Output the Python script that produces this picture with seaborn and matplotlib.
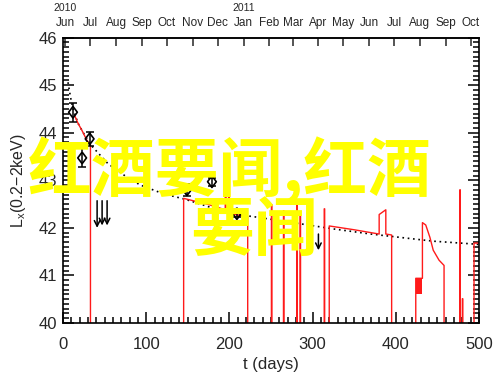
import numpy as np
import pandas as pd
import matplotlib
matplotlib.use("Agg")
import matplotlib.pyplot as plt
import seaborn as sns
from matplotlib.ticker import MultipleLocator
from matplotlib.transforms import blended_transform_factory

# ---- data ----
# dotted model curve
model_t = [6, 9, 12, 18, 25, 33, 54, 78, 93, 120, 147, 201, 231, 280, 324, 370, 445, 494, 500]
model_L = [45.06, 44.75, 44.5, 44.2, 43.98, 43.75, 43.35, 43.05, 42.9, 42.72, 42.6, 42.3, 42.23,
           42.1, 41.98, 41.87, 41.72, 41.66, 41.65]

# red light curve (39 = dropped below the axis)
red_t = [14, 18, 23, 29, 33, 33,
         145, 145, 175, 195, 195, 196, 196, 199, 199, 200, 200, 201, 222, 222,
         250.5, 250.5, 251, 251,
         265, 265, 265.5, 265.5,
         281, 281, 281.5, 281.5,
         285, 285, 285.5, 285.5,
         314, 314, 314.5, 314.5,
         320, 320, 350, 380, 380, 388, 388, 395, 395,
         424, 424, 432, 432, 436, 441, 445, 452, 458, 458,
         477, 477, 477.5, 477.5,
         480, 480, 480.5, 480.5,
         494, 494, 500]
red_L = [44.36, 44.2, 44.04, 43.83, 43.75, 39,
         39, 42.62, 42.49, 42.38, 43.5, 43.5, 42.37, 42.36, 43.5, 43.5, 42.32, 42.3, 42.23, 39,
         39, 42.49, 42.49, 39,
         39, 42.36, 42.36, 39,
         39, 42.49, 42.49, 39,
         39, 42.34, 42.34, 39,
         39, 42.4, 42.4, 39,
         39, 42.04, 41.96, 41.87, 42.28, 42.38, 41.87, 41.85, 39,
         39, 40.94, 40.94, 42.11, 42.06, 41.8, 41.53, 41.32, 41.21, 39,
         39, 42.8, 42.8, 39,
         39, 40.51, 40.51, 39,
         39, 41.68, 41.68]

# filled red block
block_t = [424, 432]
block_lo = [40.6, 40.6]
block_hi = [40.94, 40.94]

# detections with error bars
det_t = [12, 23, 32, 149, 179, 209]
det_L = [44.43, 43.47, 43.87, 42.8, 42.97, 42.3]
det_err = [0.2, 0.2, 0.14, 0.12, 0.08, 0.08]

# upper limits
lim_t = [41, 47, 53, 307]
lim_top = [42.57, 42.57, 42.57, 41.87]
lim_tip = [42.0, 42.05, 42.05, 41.53]

# top axis months
month_lab = ["Jun", "Jul", "Aug", "Sep", "Oct", "Nov", "Dec", "Jan", "Feb", "Mar",
             "Apr", "May", "Jun", "Jul", "Aug", "Sep", "Oct"]
t0 = pd.Timestamp("2010-05-29")
month_t = (pd.date_range("2010-06-01", "2011-10-01", freq="MS") - t0).days.values
year_lab = ["2010", "2011"]
year_t = [month_t[0], month_t[7]]

# ---- plot ----
sns.set_style("ticks")
plt.rcParams["font.family"] = ["Liberation Sans", "DejaVu Sans"]
plt.rcParams["axes.linewidth"] = 1.2

fig = plt.figure(figsize=(5, 3.85), dpi=100)
ax = fig.add_axes([0.126, 0.161, 0.832, 0.7415])

sns.lineplot(x=model_t, y=model_L, ax=ax, color="k", lw=1.2, linestyle=(0, (1, 2.2)),
             sort=False, estimator=None)
sns.lineplot(x=red_t, y=red_L, ax=ax, color="#ff1a1a", lw=1.0, sort=False, estimator=None)
ax.fill_between(block_t, block_lo, block_hi, color="#ff1a1a", lw=0)

ax.errorbar(det_t, det_L, yerr=det_err, fmt="none", ecolor="k", elinewidth=1.1, capsize=3, capthick=1.1)
# tall open diamond like the IDL symbol
diamond = [(0, 1), (0.75, 0), (0, -1), (-0.75, 0), (0, 1)]
sns.scatterplot(x=det_t, y=det_L, ax=ax, marker=diamond, s=70, zorder=5)
pts = ax.collections[-1]
pts.set_facecolor("none")
pts.set_edgecolor("k")
pts.set_linewidth(1.2)

for t, a, b in zip(lim_t, lim_top, lim_tip):
    ax.annotate("", xy=(t, b), xytext=(t, a),
                arrowprops=dict(arrowstyle="->", color="k", lw=1.1, shrinkA=0, shrinkB=0))

ax.set_xlim(0, 500)
ax.set_ylim(40, 46)
ax.xaxis.set_major_locator(MultipleLocator(100))
ax.xaxis.set_minor_locator(MultipleLocator(10))
ax.yaxis.set_major_locator(MultipleLocator(1))
ax.yaxis.set_minor_locator(MultipleLocator(0.1))
ax.tick_params(which="both", direction="in", top=False, right=True, color="k", width=1.1)
ax.tick_params(which="major", length=8)
ax.tick_params(which="minor", length=4)
ax.tick_params(axis="x", labelsize=12, pad=10)
ax.tick_params(axis="y", labelsize=12, pad=4)
for s in ax.spines.values():
    s.set_visible(True)
    s.set_color("k")

ax.set_xlabel("t (days)", fontsize=12, labelpad=4)
ax.set_ylabel("L$_\\mathregular{x}$(0.2\u22122keV)", fontsize=11.5, labelpad=8)

top = ax.secondary_xaxis("top")
top.set_xticks(month_t, labels=month_lab)
top.tick_params(direction="in", length=6, width=1.1, labelsize=8.5, pad=6)
top.xaxis.set_minor_locator(matplotlib.ticker.NullLocator())

tr = blended_transform_factory(ax.transData, ax.transAxes)
for t, lab in zip(year_t, year_lab):
    ax.text(t, 1.105, lab, transform=tr, ha="center", va="center", fontsize=7.5)

# watermark
fig.text(0.056, 0.558, "红酒要闻,红酒", fontsize=46, color="#ffff00", weight="bold",
         family=["Noto Sans CJK SC", "DejaVu Sans"], va="center", zorder=10)
fig.text(0.38, 0.397, "要闻", fontsize=46, color="#ffff00", weight="bold",
         family=["Noto Sans CJK SC", "DejaVu Sans"], va="center", zorder=10)

fig.savefig("out.png", dpi=100)
